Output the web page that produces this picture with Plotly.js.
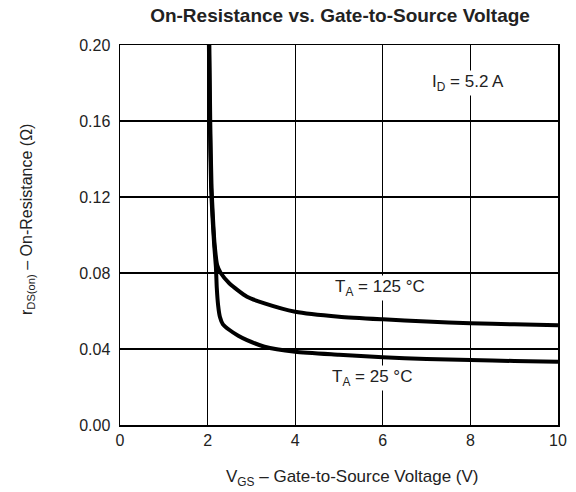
<!DOCTYPE html>
<html>
<head>
<meta charset="utf-8">
<script src="https://cdn.plot.ly/plotly-3.0.1.min.js"></script>
<style>html,body{margin:0;padding:0;background:#fff;}#chart{width:576px;height:492px;}</style>
</head>
<body>
<div id="chart"></div>
<script>
// Data
var vgs125 = [2.04, 2.06, 2.09, 2.12, 2.16, 2.22, 2.3, 2.5, 2.9, 3.3, 4, 5, 6, 7, 8, 9, 10];
var r125   = [0.2, 0.16, 0.125, 0.11, 0.095, 0.084, 0.080, 0.0745, 0.0675, 0.064, 0.0596, 0.057, 0.0556, 0.0545, 0.0535, 0.053, 0.0525];

var vgs25 = [2.03, 2.05, 2.08, 2.11, 2.15, 2.19, 2.21, 2.24, 2.28, 2.35, 2.5, 2.7, 2.9, 3.3, 4, 5, 6, 7, 8, 9, 10];
var r25   = [0.2, 0.16, 0.125, 0.11, 0.095, 0.083, 0.072, 0.063, 0.057, 0.053, 0.050, 0.047, 0.0447, 0.0412, 0.0386, 0.037, 0.0356, 0.0348, 0.0342, 0.0337, 0.0333];

var xTicks = [0, 2, 4, 6, 8, 10];
var yTicks = [0.00, 0.04, 0.08, 0.12, 0.16, 0.20];
var yTickText = ["0.00", "0.04", "0.08", "0.12", "0.16", "0.20"];

var FONT = "Liberation Sans, Arial, Helvetica, sans-serif";
var TXT = "#222";

var traces = [
  {x: vgs125, y: r125, mode: "lines", line: {color: "#000", width: 4, shape: "spline", smoothing: 0.6}, hoverinfo: "skip"},
  {x: vgs25, y: r25, mode: "lines", line: {color: "#000", width: 4, shape: "spline", smoothing: 0.6}, hoverinfo: "skip"}
];

var layout = {
  width: 576, height: 492,
  margin: {l: 120, r: 18, t: 45, b: 67},
  paper_bgcolor: "#fff", plot_bgcolor: "#fff",
  showlegend: false,
  font: {family: FONT, color: TXT, size: 16},
  title: {text: "<b>On-Resistance vs. Gate-to-Source Voltage</b>", x: 340/576, xref: "paper", xanchor: "center", y: 1 - 15/492, yanchor: "middle", font: {family: FONT, size: 19, color: TXT}},
  xaxis: {
    range: [0, 10], tickvals: xTicks, ticktext: xTicks.map(String),
    showgrid: true, gridcolor: "#000", gridwidth: 1.3, zeroline: false,
    showline: true, mirror: true, linecolor: "#000", linewidth: 1.5,
    ticks: "", tickfont: {size: 16, family: FONT, color: TXT}
  },
  yaxis: {
    range: [0, 0.2], tickvals: yTicks, ticktext: yTickText,
    showgrid: true, gridcolor: "#000", gridwidth: 1.3, zeroline: false,
    showline: true, mirror: true, linecolor: "#000", linewidth: 1.5,
    ticks: "", ticklabelstandoff: 5, tickfont: {size: 16, family: FONT, color: TXT}
  },
  annotations: [
    {x: 7.95, y: 0.18, xref: "x", yref: "y", text: "I<sub>D</sub> = 5.2 A", showarrow: false, bgcolor: "#fff", font: {size: 17, family: FONT, color: TXT}},
    {x: 5.94, y: 0.072, xref: "x", yref: "y", text: "T<sub>A</sub> = 125 °C", showarrow: false, bgcolor: "#fff", font: {size: 17, family: FONT, color: TXT}},
    {x: 5.75, y: 0.0245, xref: "x", yref: "y", text: "T<sub>A</sub> = 25 °C", showarrow: false, bgcolor: "#fff", font: {size: 17, family: FONT, color: TXT}},
    {x: 352/576, y: 1 - 478/492, xref: "paper", yref: "paper", xanchor: "center", yanchor: "middle", text: "V<sub>GS</sub> – Gate-to-Source Voltage (V)", showarrow: false, font: {size: 17, family: FONT, color: TXT}},
    {x: 27/576, y: 1 - 220/492, xref: "paper", yref: "paper", xanchor: "center", yanchor: "middle", textangle: -90, text: "r<sub>DS(on)</sub> – On-Resistance (Ω)", showarrow: false, font: {size: 16, family: FONT, color: TXT}}
  ]
};
// paper coordinates relative to plot area
var pw = 576 - 120 - 18, ph = 492 - 45 - 67;
layout.annotations.forEach(function (a) {
  if (a.xref === "paper") {
    a.x = (a.x * 576 - 120) / pw;
    a.y = (a.y * 492 - 67) / ph;
  }
});
layout.title.xref = "container";
layout.title.yref = "container";

Plotly.newPlot("chart", traces, layout, {staticPlot: true, displayModeBar: false});
</script>
</body>
</html>
